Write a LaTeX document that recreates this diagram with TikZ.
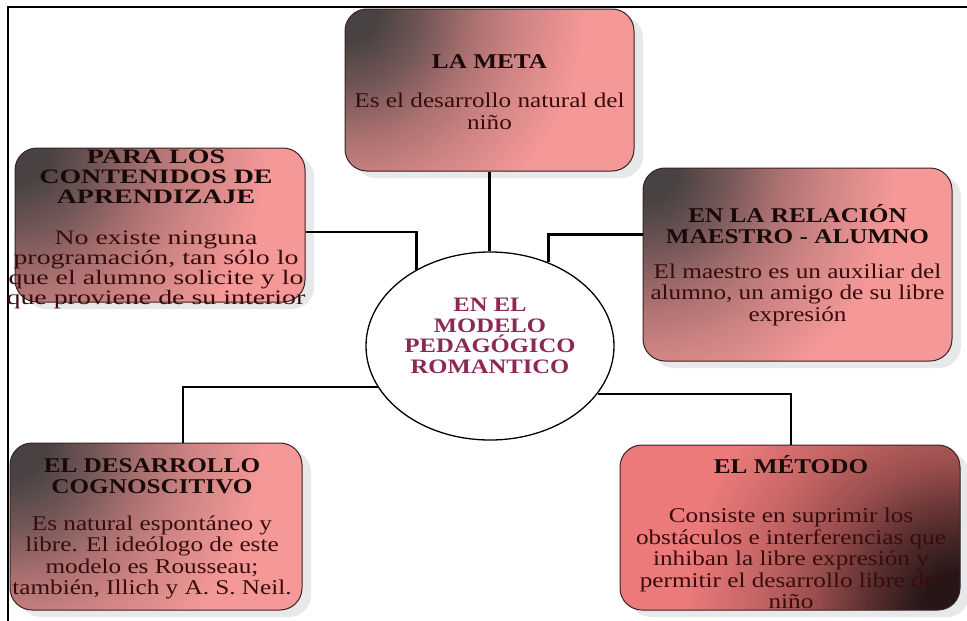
\documentclass[tikz,border=0pt]{standalone}
\usepackage{fontspec}
\setmainfont{Liberation Serif}[FakeStretch=1.2]
\newfontfamily\widefont{Liberation Serif}[FakeStretch=1.36]
\usetikzlibrary{shapes.geometric,shadows}
\definecolor{boxpink}{RGB}{244,152,152}
\definecolor{boxmid}{RGB}{170,112,112}
\definecolor{boxdark}{RGB}{72,66,66}
\definecolor{metpink}{RGB}{236,122,122}
\definecolor{metmid}{RGB}{155,78,78}
\definecolor{metdark}{RGB}{38,22,22}
\definecolor{edgecol}{RGB}{60,35,35}
\definecolor{titlecol}{RGB}{25,10,10}
\definecolor{bodycol}{RGB}{55,12,12}
\definecolor{circcol}{RGB}{140,40,85}
\definecolor{shadowcol}{RGB}{230,232,234}
\pgfdeclareradialshading{cornerfade}{\pgfpoint{0bp}{0bp}}{color(0bp)=(boxdark); color(2bp)=(boxdark); color(5bp)=(boxdark!55!boxmid); color(8bp)=(boxmid); color(11bp)=(boxmid!50!boxpink); color(15bp)=(boxpink); color(50bp)=(boxpink)}
\pgfdeclareradialshading{cornerfadem}{\pgfpoint{0bp}{0bp}}{color(0bp)=(metdark); color(2bp)=(metdark); color(5bp)=(metdark!55!metmid); color(8bp)=(metmid); color(11bp)=(metmid!50!metpink); color(15bp)=(metpink); color(50bp)=(metpink)}
\tikzset{
  rbox/.style={rounded corners=22pt, draw=edgecol, line width=1pt, fill=boxpink, inner sep=0pt,
    drop shadow={shadow xshift=9pt, shadow yshift=-7pt, fill=shadowcol, opacity=1}},
  darkcorner/.style={path picture={\shade[shading=cornerfade] (path picture bounding box.north west) circle (#1);}},
  darkcornerse/.style={path picture={\shade[shading=cornerfadem] (path picture bounding box.south east) circle (#1);}},
  txt/.style={align=center, inner sep=0pt, text=bodycol, font=\fontsize{21}{21.5}\selectfont},
  conn/.style={line width=2.6pt, black}
}
\newcommand{\ttlx}[1]{{\color{titlecol}\bfseries #1}}
\begin{document}
\begin{tikzpicture}[x=1pt,y=-1pt]
\useasboundingbox (0,0) rectangle (967,621);
\draw[line width=1.2pt] (8,621) -- (8,7) -- (967,7);

% boxes
\node[rbox, darkcorner=400pt, minimum width=289pt, minimum height=162pt] (meta) at (489.5,90) {};
\node[rbox, darkcorner=420pt, minimum width=290pt, minimum height=154pt] (para) at (160,225) {};
\node[rbox, darkcorner=420pt, minimum width=309pt, minimum height=193pt] (rel) at (797.5,264.5) {};
\node[rbox, darkcorner=420pt, minimum width=292pt, minimum height=167pt] (des) at (156,526.5) {};
\node[rbox, fill=metpink, darkcornerse=460pt, minimum width=340pt, minimum height=165pt] (met) at (790,527.5) {};

% center ellipse
\node[ellipse, draw, line width=1.3pt, fill=white, minimum width=248pt, minimum height=188pt, inner sep=0pt] (circ) at (490,346) {};

% texts
\node[txt] (metatext) at (489.5,92) {\ttlx{LA META}\\[18pt] Es el desarrollo natural del\\ niño};
\node[txt, font=\widefont\fontsize{20.5}{20}\selectfont] (paratext) at (156,229) {\ttlx{PARA LOS}\\ \ttlx{CONTENIDOS DE}\\ \ttlx{APRENDIZAJE}\\[21pt] No existe ninguna\\ programación, tan sólo lo\\ que el alumno solicite y lo\\ que proviene de su interior};
\node[txt] (reltext) at (797.5,265) {\ttlx{EN LA RELACIÓN}\\ \ttlx{MAESTRO - ALUMNO}\\[13pt] El maestro es un auxiliar del\\ alumno, un amigo de su libre\\ expresión};
\node[txt] (destext) at (152,529) {\ttlx{EL DESARROLLO}\\ \ttlx{COGNOSCITIVO}\\[15pt] Es natural espontáneo y\\ libre. El ideólogo de este\\ modelo es Rousseau;\\ también, Illich y A. S. Neil.};
\node[txt] (mettext) at (791,532) {\ttlx{EL MÉTODO}\\[28pt] Consiste en suprimir los\\ obstáculos e interferencias que\\ inhiban la libre expresión y\\ permitir el desarrollo libre del\\ niño};
\node[align=center, inner sep=0pt, text=circcol, font=\bfseries\fontsize{20.5}{20.5}\selectfont] (circtext) at (490,336) {EN EL\\ MODELO\\ PEDAGÓGICO\\ ROMANTICO};

% connectors
\draw[conn] (meta.south) -- (meta.south |- circ.north);
\draw[conn] ([yshift=-7pt]para.east) -| (circ.134.8);
\draw[conn] (circ.55.4) |- ([yshift=30pt]rel.west);
\draw[conn] (circ.200.7) -| ([xshift=27pt]des.north);
\draw[conn] (circ.-24.2) -| ([xshift=1pt]met.north);
\end{tikzpicture}
\end{document}
